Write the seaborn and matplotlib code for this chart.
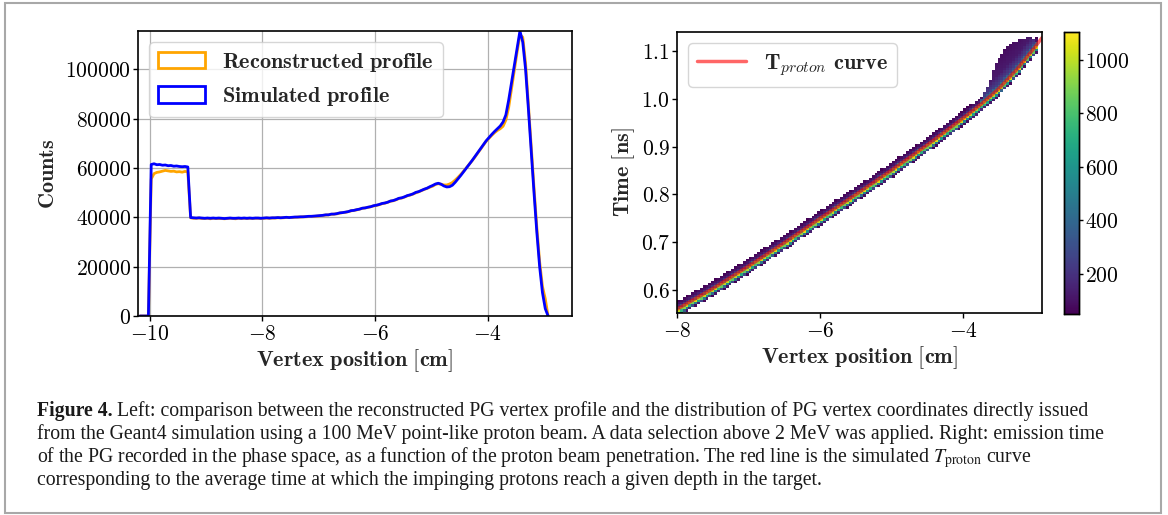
import numpy as np
import matplotlib
matplotlib.use("Agg")
import matplotlib.pyplot as plt
from matplotlib.patches import Patch, Rectangle
from matplotlib.lines import Line2D
from matplotlib.ticker import FuncFormatter, FixedLocator
import seaborn as sns

# ---------------------------------------------------------------- data
# Vertex profiles: counts per 0.05 cm bin, bins starting at -10.0 cm
bin_width = 0.05
profile_start = -10.0

simulated_counts = [
    61400, 61700, 61300, 61400, 61100, 61200, 60900, 61000, 60700, 60800,
    60600, 60500, 60600, 60400,
    39900, 39800, 39700, 39800, 39700, 39600, 39700, 39600, 39700, 39600,
    39700, 39600, 39500, 39600, 39700, 39600, 39600, 39700, 39600, 39700,
    39600, 39700, 39600, 39700, 39700, 39600, 39700, 39800, 39700, 39800,
    39800, 39900, 39800, 39900, 40000, 39900, 40000, 40100, 40100, 40200,
    40200, 40300, 40400, 40400, 40500, 40600,
    40700, 40800, 41000, 41000, 41300, 41300, 41500, 41800, 41900, 42100,
    42300, 42700, 42800, 43100, 43300, 43700, 43800, 44100, 44300, 44700,
    44900, 45200, 45600, 45800, 46100, 46600, 46800, 47200, 47700, 47900,
    48300, 48800, 49100, 49500, 50100, 50400, 50900, 51400, 51800, 52400,
    52900, 53500, 53800, 53400, 52700, 52300, 52400, 53000, 54200, 55600,
    57000, 58500, 60000, 61500, 63000, 64600, 66200, 67800, 69400, 71000,
    72300, 73600, 74800, 75900, 77000, 78600, 81500, 87500, 94500, 101500,
    108500, 115500, 111000, 100000, 84000, 67000, 50000, 34000, 20000, 9500,
    3000,
]

reconstructed_counts = [
    55500, 57700, 58200, 58400, 58700, 59000, 58800, 58600, 58700, 58400,
    58500, 58300, 58600, 58400,
    39800, 39600, 39600, 39700, 39500, 39500, 39600, 39400, 39600, 39500,
    39500, 39500, 39400, 39500, 39600, 39500, 39400, 39600, 39500, 39600,
    39500, 39600, 39500, 39600, 39600, 39500, 39600, 39700, 39600, 39700,
    39700, 39800, 39800, 39800, 39900, 39900, 39900, 40000, 40100, 40100,
    40200, 40200, 40300, 40400, 40400, 40500,
    40600, 40800, 40900, 41000, 41200, 41300, 41400, 41700, 41900, 42000,
    42300, 42600, 42800, 43000, 43300, 43600, 43800, 44000, 44300, 44600,
    44800, 45100, 45500, 45700, 46100, 46500, 46700, 47100, 47600, 47800,
    48200, 48700, 49000, 49400, 49900, 50300, 50800, 51300, 51700, 52200,
    52600, 53300, 53600, 53400, 53100, 53100, 53500, 54100, 55100, 56200,
    57400, 58700, 60100, 61500, 62900, 64400, 66000, 67600, 69200, 70800,
    72000, 73200, 74300, 75200, 75900, 76900, 79400, 84500, 92000, 99500,
    107000, 114000, 113000, 102500, 86000, 69000, 52000, 36000, 22000, 12000,
    7000,
]

# Mean arrival time of the protons versus depth (T_proton curve)
tof_depth = [-8.0, -7.5, -7.0, -6.5, -6.0, -5.5, -5.0, -4.5, -4.0, -3.75,
             -3.5, -3.25, -3.0, -2.9]
tof_time = [0.560, 0.603, 0.650, 0.699, 0.750, 0.800, 0.851, 0.904, 0.960,
            0.989, 1.022, 1.062, 1.108, 1.128]

# Emission-time spread around the curve: counts per cell vs offset [ns]
band_offset = [-0.017, -0.013, -0.009, -0.005, -0.001, 0.003, 0.007, 0.011,
               0.015, 0.019]
band_counts = [0, 150, 600, 1050, 800, 250, 130, 90, 60, 0]

# Late-emission tail near the end of range
tail_depth = [-3.75, -3.65, -3.55, -3.45, -3.35, -3.25, -3.15, -3.05, -2.96]
tail_top = [0.995, 1.030, 1.070, 1.100, 1.115, 1.122, 1.127, 1.128, 1.120]
tail_offset = [0.0, 0.010, 0.030, 0.080]
tail_counts = [600, 250, 120, 70]

colorbar_ticks = [200, 400, 600, 800, 1000]

caption_lines = [
    "Left: comparison between the reconstructed PG vertex profile and the "
    "distribution of PG vertex coordinates directly issued",
    "from the Geant4 simulation using a 100 MeV point-like proton beam. "
    "A data selection above 2 MeV was applied. Right: emission time",
    "of the PG recorded in the phase space, as a function of the proton beam "
    "penetration. The red line is the simulated $T_{\\mathrm{proton}}$ curve",
    "corresponding to the average time at which the impinging protons reach "
    "a given depth in the target.",
]

# ---------------------------------------------------------------- style
sns.set_theme(style="ticks")
plt.rcParams.update({
    "font.family": ["DejaVu Sans"],
    "mathtext.fontset": "cm",
    "axes.edgecolor": "black",
    "axes.linewidth": 1.2,
    "xtick.color": "black",
    "ytick.color": "black",
    "xtick.major.width": 1.0,
    "ytick.major.width": 1.0,
    "xtick.major.size": 3.5,
    "ytick.major.size": 3.5,
    "xtick.major.pad": 2.5,
    "ytick.major.pad": 1.5,
})

TICK_FS = 15.5
LABEL_FS = 16
LEGEND_FS = 16


def bf(text):
    return r"$\mathbf{" + text.replace(" ", r"\ ") + "}$"


W, H = 1168, 515
fig = plt.figure(figsize=(W / 100, H / 100), dpi=100)
fig.patch.set_facecolor("white")


def box(x0, y0, x1, y1):
    return [x0 / W, 1 - y1 / H, (x1 - x0) / W, (y1 - y0) / H]


ax1 = fig.add_axes(box(138, 31, 572, 316))
ax2 = fig.add_axes(box(677, 32, 1042, 313))
cax = fig.add_axes(box(1064, 32, 1079, 314))

# ---------------------------------------------------------------- left: profiles
n_bins = len(simulated_counts)
centers = profile_start + bin_width * (np.arange(n_bins) + 0.5)
edges = [round(v, 3) for v in
         np.arange(profile_start - 0.2, profile_start + bin_width * (n_bins + 1) + 1e-9,
                   bin_width)]

sns.histplot(x=centers, weights=reconstructed_counts, bins=edges, element="poly",
             fill=False, color="orange", linewidth=2.0, ax=ax1)
sns.histplot(x=centers, weights=simulated_counts, bins=edges, element="poly",
             fill=False, color="blue", linewidth=2.0, ax=ax1)

ax1.set_xlim(-10.21, -2.5)
ax1.set_ylim(0, max(max(simulated_counts), max(reconstructed_counts)))
ax1.xaxis.set_major_locator(FixedLocator([-10, -8, -6, -4]))
ax1.yaxis.set_major_locator(FixedLocator([0, 20000, 40000, 60000, 80000, 100000]))
ax1.xaxis.set_major_formatter(FuncFormatter(lambda v, p: bf(f"{v:.0f}")))
ax1.yaxis.set_major_formatter(FuncFormatter(lambda v, p: bf(f"{v:.0f}")))
ax1.tick_params(labelsize=TICK_FS)
ax1.grid(True, color="#b0b0b0", linewidth=0.9)
ax1.set_axisbelow(True)
ax1.set_xlabel(bf("Vertex position [cm]"), fontsize=LABEL_FS, labelpad=2)
ax1.set_ylabel(bf("Counts"), fontsize=LABEL_FS, labelpad=5)
for s in ax1.spines.values():
    s.set_visible(True)

handles = [Patch(facecolor="none", edgecolor="orange", linewidth=2.0),
           Patch(facecolor="none", edgecolor="blue", linewidth=2.0)]
ax1.legend(handles, [bf("Reconstructed profile"), bf("Simulated profile")],
           loc="upper left", fontsize=LEGEND_FS, frameon=True, fancybox=True,
           framealpha=0.8, edgecolor="0.8", handlelength=2.1, handleheight=0.75,
           handletextpad=0.8, borderpad=0.4, labelspacing=0.5)

# ---------------------------------------------------------------- right: time vs depth
x_edges = np.round(np.arange(-8.0, -2.94, 0.04), 3)
y_edges = np.round(np.arange(0.50, 1.16, 0.005), 4)
xc = (x_edges[:-1] + x_edges[1:]) / 2
yc = (y_edges[:-1] + y_edges[1:]) / 2
XX, YY = np.meshgrid(xc, yc, indexing="ij")
curve_at_cell = np.interp(XX, tof_depth, tof_time)
offset = YY - curve_at_cell
cell_counts = np.interp(offset, band_offset, band_counts, left=0, right=0)

in_tail = ((XX >= tail_depth[0]) & (offset > 0)
           & (YY <= np.interp(XX, tail_depth, tail_top)))
cell_counts[in_tail] = np.maximum(cell_counts[in_tail],
                                  np.interp(offset[in_tail], tail_offset, tail_counts))

sns.histplot(x=XX.ravel(), y=YY.ravel(), weights=cell_counts.ravel(),
             bins=[list(x_edges), list(y_edges)], cmap="viridis", vmin=50, vmax=1104,
             thresh=45, cbar=True, cbar_ax=cax, ax=ax2)

sns.lineplot(x=tof_depth, y=tof_time, color="red", alpha=0.6, linewidth=2.5,
             sort=False, ax=ax2, legend=False)

ax2.set_xlim(-8.0, -2.9)
ax2.set_ylim(0.552, 1.14)
ax2.xaxis.set_major_locator(FixedLocator([-8, -6, -4]))
ax2.yaxis.set_major_locator(FixedLocator([0.6, 0.7, 0.8, 0.9, 1.0, 1.1]))
ax2.xaxis.set_major_formatter(FuncFormatter(lambda v, p: bf(f"{v:.0f}")))
ax2.yaxis.set_major_formatter(FuncFormatter(lambda v, p: bf(f"{v:.1f}")))
ax2.tick_params(labelsize=TICK_FS)
ax2.grid(False)
ax2.set_xlabel(bf("Vertex position [cm]"), fontsize=LABEL_FS, labelpad=2)
ax2.set_ylabel(bf("Time [ns]"), fontsize=LABEL_FS, labelpad=3)
for s in ax2.spines.values():
    s.set_visible(True)

ax2.legend([Line2D([], [], color="red", alpha=0.6, linewidth=2.5)],
           [r"$\mathbf{T}_{proton}\ \mathbf{curve}$"],
           loc="upper left", fontsize=LEGEND_FS, frameon=True, fancybox=True,
           framealpha=0.8, edgecolor="0.8", handlelength=2.2,
           handletextpad=0.8, borderpad=0.4)

cax.yaxis.set_major_locator(FixedLocator(colorbar_ticks))
cax.yaxis.set_major_formatter(FuncFormatter(lambda v, p: bf(f"{v:.0f}")))
cax.tick_params(labelsize=TICK_FS, length=3, pad=1.5)
for s in cax.spines.values():
    s.set_visible(True)
    s.set_linewidth(1.0)

# ---------------------------------------------------------------- caption
fig.add_artist(Rectangle((5 / W, 1 - 513 / H), (1161 - 5) / W, (513 - 3) / H,
                         transform=fig.transFigure, fill=False,
                         edgecolor="#a8a8a8", linewidth=1.5))

cap_kw = dict(family=["Liberation Serif"], fontsize=14.2, math_fontfamily="stix",
              va="baseline", ha="left", color="#1a1a1a")
renderer = fig.canvas.get_renderer()
baselines = [416, 439, 462, 485]
x_left = 37
head = fig.text(x_left / W, 1 - baselines[0] / H, "Figure 4.", fontweight="bold",
                **cap_kw)
x_after = head.get_window_extent(renderer).x1 + 4
fig.text(x_after / W, 1 - baselines[0] / H, caption_lines[0], **cap_kw)
for line, base in zip(caption_lines[1:], baselines[1:]):
    fig.text(x_left / W, 1 - base / H, line, **cap_kw)

fig.savefig("out.png", dpi=100)
